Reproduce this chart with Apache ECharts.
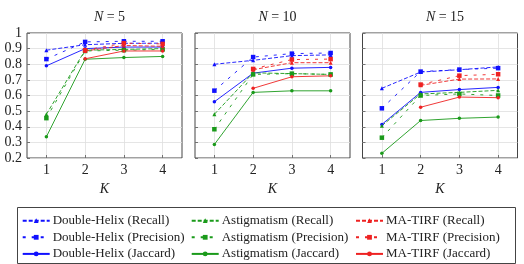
<!DOCTYPE html>
<html><head><meta charset="utf-8">
<script src="https://cdn.jsdelivr.net/npm/echarts@6/dist/echarts.min.js"></script>
<style>html,body{margin:0;padding:0;background:#fff}#c{width:524px;height:264px}</style>
</head><body><div id="c"></div>
<script>
// ---- data ----
var K = [1, 2, 3, 4];
var panelTitles = ['5', '10', '15'];
var yTicks = [0.2, 0.3, 0.4, 0.5, 0.6, 0.7, 0.8, 0.9, 1];

var dhRecall5 = [0.89, 0.925, 0.934, 0.935];
var dhPrecision5 = [0.833, 0.943, 0.947, 0.947];
var dhJaccard5 = [0.79, 0.90, 0.91, 0.91];
var astRecall5 = [0.48, 0.89, 0.895, 0.90];
var astPrecision5 = [0.455, 0.885, 0.89, 0.895];
var astJaccard5 = [0.336, 0.832, 0.843, 0.85];
var maRecall5 = [null, 0.885, 0.92, 0.915];
var maPrecision5 = [null, 0.89, 0.935, 0.93];
var maJaccard5 = [null, 0.835, 0.885, 0.885];

var dhRecall10 = [0.80, 0.825, 0.855, 0.86];
var dhPrecision10 = [0.631, 0.846, 0.868, 0.872];
var dhJaccard10 = [0.56, 0.743, 0.775, 0.78];
var astRecall10 = [0.48, 0.745, 0.74, 0.735];
var astPrecision10 = [0.384, 0.735, 0.74, 0.735];
var astJaccard10 = [0.287, 0.62, 0.63, 0.63];
var maRecall10 = [null, 0.765, 0.81, 0.81];
var maPrecision10 = [null, 0.77, 0.83, 0.833];
var maJaccard10 = [null, 0.646, 0.72, 0.726];

var dhRecall15 = [0.646, 0.75, 0.765, 0.783];
var dhPrecision15 = [0.518, 0.753, 0.766, 0.775];
var dhJaccard15 = [0.415, 0.62, 0.638, 0.652];
var astRecall15 = [0.407, 0.61, 0.62, 0.633];
var astPrecision15 = [0.33, 0.60, 0.61, 0.60];
var astJaccard15 = [0.23, 0.44, 0.454, 0.462];
var maRecall15 = [null, 0.665, 0.705, 0.706];
var maPrecision15 = [null, 0.67, 0.727, 0.736];
var maJaccard15 = [null, 0.525, 0.59, 0.586];

var panels = [
  [dhRecall5, dhPrecision5, dhJaccard5, astRecall5, astPrecision5, astJaccard5, maRecall5, maPrecision5, maJaccard5],
  [dhRecall10, dhPrecision10, dhJaccard10, astRecall10, astPrecision10, astJaccard10, maRecall10, maPrecision10, maJaccard10],
  [dhRecall15, dhPrecision15, dhJaccard15, astRecall15, astPrecision15, astJaccard15, maRecall15, maPrecision15, maJaccard15]
];
var seriesNames = [
  'Double-Helix (Recall)', 'Double-Helix (Precision)', 'Double-Helix (Jaccard)',
  'Astigmatism (Recall)', 'Astigmatism (Precision)', 'Astigmatism (Jaccard)',
  'MA-TIRF (Recall)', 'MA-TIRF (Precision)', 'MA-TIRF (Jaccard)'
];

// ---- styles ----
var FONT = 'Liberation Serif';
var colors = ['#1010ff', '#1a9a1a', '#ee2222'];
var dashes = [[4, 2], [3, 6], 'solid'];
var symbols = ['triangle', 'rect', 'circle'];
var symSizes = [4, 4.5, 3.5];
var grids = [
  {left: 27, top: 33, width: 155, height: 125},
  {left: 195, top: 33, width: 155, height: 125},
  {left: 362.5, top: 33, width: 155, height: 125}
];

var chart = echarts.init(document.getElementById('c'), null, {renderer: 'canvas'});
var xAxes = [], yAxes = [], series = [], titles = [];
grids.forEach(function (g, p) {
  xAxes.push({
    gridIndex: p, type: 'value', min: 0.5, max: 4.5,
    axisLine: {show: false},
    axisTick: {show: true, inside: true, length: 3, customValues: K, lineStyle: {color: '#555', width: 0.8}},
    axisLabel: {customValues: K, fontFamily: FONT, fontSize: 14, color: '#222', margin: 5},
    splitLine: {show: true, lineStyle: {color: '#dedede', width: 0.8}},
    name: 'K', nameLocation: 'middle', nameGap: 24,
    nameTextStyle: {fontFamily: FONT, fontStyle: 'italic', fontSize: 14, color: '#222'}
  });
  yAxes.push({
    gridIndex: p, type: 'value', min: 0.2, max: 1, interval: 0.1,
    axisLine: {show: false},
    axisTick: {show: true, inside: true, length: 3, lineStyle: {color: '#555', width: 0.8}},
    axisLabel: {show: p === 0, fontFamily: FONT, fontSize: 14, color: '#222', margin: 5},
    splitLine: {show: true, lineStyle: {color: '#dedede', width: 0.8}}
  });
  titles.push({
    text: '{i|N} = ' + panelTitles[p],
    left: g.left + g.width / 2, top: 5, textAlign: 'center',
    textStyle: {fontFamily: FONT, fontSize: 14, fontWeight: 'normal', color: '#222',
      rich: {i: {fontFamily: FONT, fontStyle: 'italic', fontSize: 14, color: '#222'}}}
  });
  panels[p].forEach(function (vals, s) {
    var c = colors[Math.floor(s / 3)], m = s % 3;
    var data = [];
    K.forEach(function (k, i) { if (vals[i] !== null) data.push([k, vals[i]]); });
    series.push({
      name: seriesNames[s], type: 'line', xAxisIndex: p, yAxisIndex: p,
      data: data, symbol: symbols[m], symbolSize: symSizes[m],
      lineStyle: {color: c, width: 0.9, type: dashes[m]},
      itemStyle: {color: c}, emphasis: {disabled: true}, animation: false, z: 3
    });
  });
});

function legendCol(left, names) {
  return {
    orient: 'vertical', left: left, top: 214.2, height: 60, padding: 0,
    itemGap: 3.6, itemWidth: 27, itemHeight: 6,
    data: names, selectedMode: false,
    textStyle: {fontFamily: FONT, fontSize: 13, lineHeight: 13, color: '#222', padding: [0, 0, 0, -2]}
  };
}

chart.setOption({
  backgroundColor: '#fff',
  animation: false,
  title: titles,
  grid: grids.map(function (g) {
    return Object.assign({show: true, borderColor: '#444', borderWidth: 1, backgroundColor: 'transparent'}, g);
  }),
  xAxis: xAxes,
  yAxis: yAxes,
  legend: [
    legendCol(21.7, seriesNames.slice(0, 3)),
    legendCol(190.7, seriesNames.slice(3, 6)),
    legendCol(355, seriesNames.slice(6, 9))
  ],
  graphic: [{
    type: 'rect', shape: {x: 17.5, y: 207.5, width: 498, height: 56},
    style: {fill: 'none', stroke: '#444', lineWidth: 1}, silent: true
  }],
  series: series
});
</script></body></html>
